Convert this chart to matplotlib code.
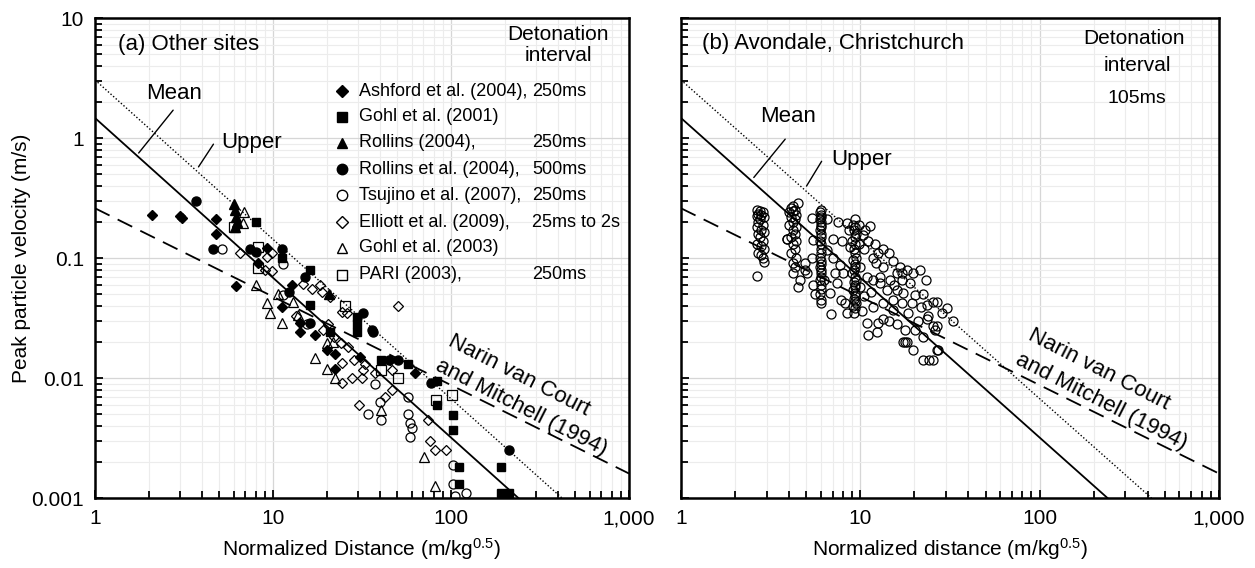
import matplotlib
matplotlib.use('Agg')
import matplotlib.pyplot as plt
from matplotlib.ticker import LogLocator, FixedLocator, FixedFormatter, NullFormatter

matplotlib.rc('font', family='Liberation Sans', size=15)
matplotlib.rc('mathtext', fontset='custom', rm='Liberation Sans', default='regular')

# ---- trend lines (end points) ----
mean_x, mean_y = [1, 239], [1.47, 0.001]
upper_x, upper_y = [1, 420], [3.05, 0.001]
narin_x, narin_y = [1, 1000], [0.26, 0.0016]

# ---- (a) other sites ----
ashford_x = [2.1, 3.0, 3.1, 4.8, 4.8, 6.2, 8.2, 9.3, 11.2, 12.8, 14.2, 14.2, 17.2, 20.1, 22.3, 22.3, 30.8, 45.4, 62.8]
ashford_y = [0.23, 0.225, 0.215, 0.21, 0.158, 0.058, 0.091, 0.121, 0.039, 0.060, 0.029, 0.024, 0.023, 0.017, 0.016, 0.012, 0.015, 0.014, 0.011]

gohl01_x = [8.0, 11.2, 16.1, 16.1, 20.9, 29.6, 29.6, 29.6, 40.4, 57.3, 83.4, 83.4, 102.6, 102.6, 111, 111, 191, 191, 212]
gohl01_y = [0.2, 0.1, 0.079, 0.041, 0.024, 0.032, 0.028, 0.024, 0.014, 0.013, 0.0094, 0.006, 0.0049, 0.0037, 0.0018, 0.0013, 0.0018, 0.0011, 0.0011]

rollins_x = [6.0, 6.1, 6.2, 6.3, 6.1, 20.6]
rollins_y = [0.28, 0.25, 0.22, 0.2, 0.18, 0.05]

rollins2_x = [3.7, 4.6, 7.4, 8.0, 11.2, 12.3, 15.1, 16.1, 32.0, 36.0, 36.5, 45.0, 50.4, 77.2, 212]
rollins2_y = [0.30, 0.119, 0.119, 0.112, 0.119, 0.052, 0.070, 0.029, 0.035, 0.025, 0.024, 0.014, 0.014, 0.0091, 0.0025]

tsujino_x = [5.2, 11.4, 11.4, 15.5, 34.2, 40.4, 40.0, 37.4, 57.3, 57.3, 58.5, 60.5, 59.0, 102.6, 102.6, 121, 105]
tsujino_y = [0.119, 0.089, 0.049, 0.028, 0.005, 0.0045, 0.0063, 0.009, 0.0069, 0.005, 0.0042, 0.0038, 0.0032, 0.0019, 0.0013, 0.0011, 0.00104]

elliott_x = [6.5, 9.25, 9.9, 9.0, 9.9, 14.7, 16.5, 18.4, 13.5, 50.4, 24.4, 26.0, 19.0, 24.1, 26.5, 24.5, 24.3, 27.8,
             31.5, 32.0, 37.4, 46.6, 46.6, 42.6, 30.4, 74.3, 76.2, 81.3, 93.7, 20.5, 22.0, 28.5, 21.0, 18.8, 33.0]
elliott_y = [0.11, 0.102, 0.11, 0.079, 0.078, 0.061, 0.055, 0.06, 0.033, 0.04, 0.0355, 0.035, 0.025, 0.0196, 0.018, 0.0133, 0.0091, 0.01,
             0.01, 0.0117, 0.011, 0.0117, 0.0079, 0.0069, 0.006, 0.0045, 0.003, 0.0025, 0.0025, 0.028, 0.022, 0.014, 0.047, 0.052, 0.013]

gohl03_x = [6.9, 6.8, 8.0, 9.25, 9.6, 11.2, 10.7, 12.9, 13.8, 17.2, 20.1, 22.3, 20.1, 21.8, 40.4, 70.5, 81.3]
gohl03_y = [0.24, 0.196, 0.06, 0.042, 0.035, 0.029, 0.05, 0.043, 0.0335, 0.0147, 0.0119, 0.01, 0.0197, 0.02, 0.0054, 0.0022, 0.00126]

pari_x = [6.0, 8.2, 8.2, 25.4, 40.4, 50.4, 82.4, 101]
pari_y = [0.18, 0.123, 0.083, 0.04, 0.0117, 0.01, 0.0066, 0.0072]

# ---- (b) Avondale, Christchurch ----
col1_x = [2.65, 2.75, 2.85, 2.7, 2.8, 2.65, 2.9, 2.75, 2.7, 2.85, 2.65, 2.8, 2.9, 2.7, 2.75, 2.85, 2.65, 2.8, 2.9, 2.7, 2.8, 2.85, 2.9, 2.65]
col1_y = [0.25, 0.245, 0.24, 0.235, 0.23, 0.225, 0.22, 0.21, 0.2, 0.19, 0.18, 0.17, 0.165, 0.16, 0.15, 0.14, 0.13, 0.125, 0.12, 0.11, 0.105, 0.1, 0.093, 0.071]
col2_x = [4.5, 4.2, 4.1, 4.3, 4.2, 4.0, 4.4, 4.1, 4.3, 4.2, 4.0, 4.4, 4.2, 4.3, 4.1, 3.9, 4.4, 4.2, 4.3, 4.1, 4.4, 4.2, 4.3, 4.2, 4.5, 4.6]
col2_y = [0.29, 0.27, 0.26, 0.25, 0.245, 0.24, 0.23, 0.22, 0.21, 0.2, 0.19, 0.18, 0.17, 0.16, 0.15, 0.145, 0.14, 0.13, 0.12, 0.11, 0.1, 0.091, 0.085, 0.075, 0.057, 0.065]
col3_x = [6.0, 5.95, 6.05, 6.0, 5.95, 6.05, 6.0, 6.0, 5.95, 6.05, 6.0, 5.95, 6.05, 6.0, 6.0, 5.95, 6.05, 6.0, 5.95, 6.05, 6.0, 6.0, 5.95, 6.05, 6.0, 5.95, 6.05, 6.0]
col3_y = [0.25, 0.24, 0.23, 0.22, 0.21, 0.2, 0.19, 0.18, 0.17, 0.16, 0.15, 0.14, 0.13, 0.12, 0.11, 0.1, 0.095, 0.09, 0.085, 0.08, 0.075, 0.07, 0.065, 0.06, 0.055, 0.05, 0.045, 0.042]
col4_x = [9.3, 9.1, 9.4, 9.2, 9.5, 9.3, 9.0, 9.4, 9.2, 9.3, 9.5, 9.1, 9.3, 9.4, 9.2, 9.0, 9.3, 9.5, 9.2, 9.4, 9.3, 9.1, 9.3, 9.4, 9.2, 9.3, 9.5, 9.1, 9.3, 9.2]
col4_y = [0.21, 0.19, 0.18, 0.17, 0.16, 0.15, 0.14, 0.13, 0.12, 0.11, 0.1, 0.096, 0.09, 0.085, 0.08, 0.075, 0.07, 0.066, 0.063, 0.06, 0.057, 0.054, 0.051, 0.048, 0.046, 0.044, 0.042, 0.04, 0.038, 0.035]
cloud_x = [5.38, 6.52, 7.5, 8.4, 7.04, 7.9, 8.8, 10.4, 11.7, 13.4, 12.3, 7.7, 7.04, 6.5, 5.45, 5.38, 4.9, 5.05, 3.9, 11.3,
           13.4, 15.2, 17.1, 20.2, 26.8, 32.9, 22.4, 24.1, 25.5, 27.0, 19.6, 17.8, 26.8, 4.9, 5.45, 6.85, 6.8, 7.4, 8.0, 8.2,
           8.4, 10.9, 11.0, 12.4, 12.6, 13.4, 11.7, 13.4, 15.2, 16.0, 17.3, 17.1, 15.2, 17.8, 17.3, 18.1, 20.2, 19.3, 21.9, 23.6,
           23.4, 25.3, 26.0, 22.3, 26.7, 25.3, 9.9, 10.9, 11.7, 12.9, 14.1, 14.6, 16.0, 16.7, 18.1, 19.6, 21.4, 23.2, 9.9, 10.5,
           11.5, 14.5, 16.0, 21.0, 24.0, 18.5, 12.0, 14.5, 10.5, 12.8, 15.5, 6.3, 7.2, 5.6, 7.8, 10.2, 22.5, 28.5, 30.5, 19.0,
           17.0, 9.8, 10.6, 8.7, 11.0, 9.8, 12.5]
cloud_y = [0.215, 0.21, 0.2, 0.195, 0.145, 0.14, 0.123, 0.155, 0.101, 0.084, 0.091, 0.087, 0.101, 0.117, 0.141, 0.101, 0.091, 0.075, 0.145, 0.185,
           0.12, 0.094, 0.075, 0.049, 0.043, 0.03, 0.0141, 0.0141, 0.0141, 0.017, 0.017, 0.02, 0.027, 0.08, 0.06, 0.034, 0.051, 0.062, 0.075, 0.042,
           0.035, 0.029, 0.023, 0.024, 0.029, 0.031, 0.039, 0.042, 0.045, 0.054, 0.051, 0.042, 0.037, 0.025, 0.02, 0.02, 0.025, 0.042, 0.039, 0.041,
           0.031, 0.027, 0.025, 0.022, 0.017, 0.043, 0.084, 0.07, 0.066, 0.062, 0.054, 0.066, 0.075, 0.084, 0.08, 0.075, 0.08, 0.066, 0.057, 0.048,
           0.052, 0.03, 0.028, 0.03, 0.033, 0.035, 0.13, 0.11, 0.12, 0.07, 0.06, 0.065, 0.075, 0.05, 0.045, 0.036, 0.05, 0.035, 0.038, 0.062,
           0.065, 0.19, 0.17, 0.17, 0.14, 0.13, 0.11]

xtick_vals = [1, 10, 100, 1000]
xtick_labels = ['1', '10', '100', '1,000']
ytick_vals = [0.001, 0.01, 0.1, 1, 10]
ytick_labels = ['0.001', '0.01', '0.1', '1', '10']

fig = plt.figure(figsize=(12.55, 5.68), dpi=100)
ax1 = fig.add_axes([0.0757, 0.1232, 0.4255, 0.845])
ax2 = fig.add_axes([0.5426, 0.1232, 0.4287, 0.845])


def style_axes(ax, ylabels):
    ax.set_xscale('log')
    ax.set_yscale('log')
    ax.set_xlim(1, 1000)
    ax.set_ylim(0.001, 10)
    ax.xaxis.set_major_locator(FixedLocator(xtick_vals))
    ax.xaxis.set_major_formatter(FixedFormatter(xtick_labels))
    ax.xaxis.set_minor_locator(LogLocator(base=10, subs=range(2, 10)))
    ax.xaxis.set_minor_formatter(NullFormatter())
    ax.yaxis.set_major_locator(FixedLocator(ytick_vals))
    ax.yaxis.set_minor_locator(LogLocator(base=10, subs=range(2, 10)))
    ax.yaxis.set_minor_formatter(NullFormatter())
    if ylabels:
        ax.yaxis.set_major_formatter(FixedFormatter(ytick_labels))
    else:
        ax.yaxis.set_major_formatter(NullFormatter())
    ax.grid(which='major', color='#d6d6d6', lw=0.9)
    ax.grid(which='minor', color='#ececec', lw=0.8)
    ax.set_axisbelow(True)
    ax.tick_params(which='both', direction='in', top=False, right=False, width=1.3, colors='black')
    ax.tick_params(which='major', length=6, pad=8)
    ax.tick_params(which='minor', length=5)
    for sp in ax.spines.values():
        sp.set_linewidth(1.8)
    ax.plot(mean_x, mean_y, color='black', lw=1.3)
    ax.plot(upper_x, upper_y, color='black', lw=1.0, ls=(0, (1, 1.5)))
    ax.plot(narin_x, narin_y, color='black', lw=1.3, ls=(0, (9, 5)))


style_axes(ax1, True)
style_axes(ax2, False)

# ---- panel (a) data ----
ax1.plot(ashford_x, ashford_y, 'D', ms=5.5, mfc='black', mec='black', ls='none')
ax1.plot(gohl01_x, gohl01_y, 's', ms=6, mfc='black', mec='black', ls='none')
ax1.plot(rollins_x, rollins_y, '^', ms=6.5, mfc='black', mec='black', ls='none')
ax1.plot(rollins2_x, rollins2_y, 'o', ms=6.5, mfc='black', mec='black', ls='none')
ax1.plot(tsujino_x, tsujino_y, 'o', ms=6.5, mfc='none', mec='black', mew=0.9, ls='none')
ax1.plot(elliott_x, elliott_y, 'D', ms=5.5, mfc='none', mec='black', mew=0.9, ls='none')
ax1.plot(gohl03_x, gohl03_y, '^', ms=7, mfc='none', mec='black', mew=0.9, ls='none')
ax1.plot(pari_x, pari_y, 's', ms=6.5, mfc='none', mec='black', mew=0.9, ls='none')

# legend drawn by hand so the interval column lines up
legend_rows = [
    ('D', 'black', 'Ashford et al. (2004),', '250ms'),
    ('s', 'black', 'Gohl et al. (2001)', ''),
    ('^', 'black', 'Rollins (2004),', '250ms'),
    ('o', 'black', 'Rollins et al. (2004),', '500ms'),
    ('o', 'none', 'Tsujino et al. (2007),', '250ms'),
    ('D', 'none', 'Elliott et al. (2009),', '25ms to 2s'),
    ('^', 'none', 'Gohl et al. (2003)', ''),
    ('s', 'none', 'PARI (2003),', '250ms'),
]
row_y = [0.848, 0.794, 0.740, 0.685, 0.631, 0.575, 0.521, 0.465]
for (mk, fc, name, interval), yy in zip(legend_rows, row_y):
    ax1.plot([0.4625], [yy], mk, ms=7.5 if mk != 'D' else 6.5, mfc=fc, mec='black', mew=1.0,
             transform=ax1.transAxes, clip_on=False)
    ax1.text(0.494, yy, name, transform=ax1.transAxes, ha='left', va='center', fontsize=13)
    if interval:
        ax1.text(0.818, yy, interval, transform=ax1.transAxes, ha='left', va='center', fontsize=13)

ax1.text(0.867, 0.965, 'Detonation', transform=ax1.transAxes, ha='center', va='center', fontsize=15)
ax1.text(0.867, 0.922, 'interval', transform=ax1.transAxes, ha='center', va='center', fontsize=15)
ax1.text(0.043, 0.944, '(a) Other sites', transform=ax1.transAxes, ha='left', va='center', fontsize=16)

ax1.text(2.78, 2.37, 'Mean', ha='center', va='center', fontsize=16)
ax1.annotate('', xy=(1.72, 0.72), xytext=(2.81, 1.78), arrowprops=dict(arrowstyle='-', lw=1.0, color='black'))
ax1.text(7.6, 0.91, 'Upper', ha='center', va='center', fontsize=16)
ax1.annotate('', xy=(3.74, 0.55), xytext=(4.72, 0.93), arrowprops=dict(arrowstyle='-', lw=1.0, color='black'))
ax1.text(269, 0.0072, 'Narin van Court\nand Mitchell (1994)', ha='center', va='center', rotation=-27,
         rotation_mode='anchor', multialignment='left', fontsize=16, linespacing=1.4)

ax1.set_xlabel('Normalized Distance (m/kg$^{0.5}$)', fontsize=15, labelpad=6)
ax1.set_ylabel('Peak particle velocity (m/s)', fontsize=15, labelpad=0)

# ---- panel (b) data ----
for xs, ys in [(col1_x, col1_y), (col2_x, col2_y), (col3_x, col3_y), (col4_x, col4_y), (cloud_x, cloud_y)]:
    ax2.plot(xs, ys, 'o', ms=6.5, mfc='none', mec='black', mew=0.9, ls='none')

ax2.text(0.039, 0.948, '(b) Avondale, Christchurch', transform=ax2.transAxes, ha='left', va='center', fontsize=16)
ax2.text(0.842, 0.958, 'Detonation', transform=ax2.transAxes, ha='center', va='center', fontsize=15)
ax2.text(0.848, 0.902, 'interval', transform=ax2.transAxes, ha='center', va='center', fontsize=15)
ax2.text(0.848, 0.833, '105ms', transform=ax2.transAxes, ha='center', va='center', fontsize=14)

ax2.text(3.95, 1.5, 'Mean', ha='center', va='center', fontsize=16)
ax2.annotate('', xy=(2.49, 0.45), xytext=(3.9, 1.02), arrowprops=dict(arrowstyle='-', lw=1.0, color='black'))
ax2.text(10.2, 0.66, 'Upper', ha='center', va='center', fontsize=16)
ax2.annotate('', xy=(4.92, 0.38), xytext=(6.2, 0.67), arrowprops=dict(arrowstyle='-', lw=1.0, color='black'))
ax2.text(240, 0.0081, 'Narin van Court\nand Mitchell (1994)', ha='center', va='center', rotation=-27,
         rotation_mode='anchor', multialignment='left', fontsize=16, linespacing=1.4)

ax2.set_xlabel('Normalized distance (m/kg$^{0.5}$)', fontsize=15, labelpad=6)

fig.savefig('out.png', dpi=100)
